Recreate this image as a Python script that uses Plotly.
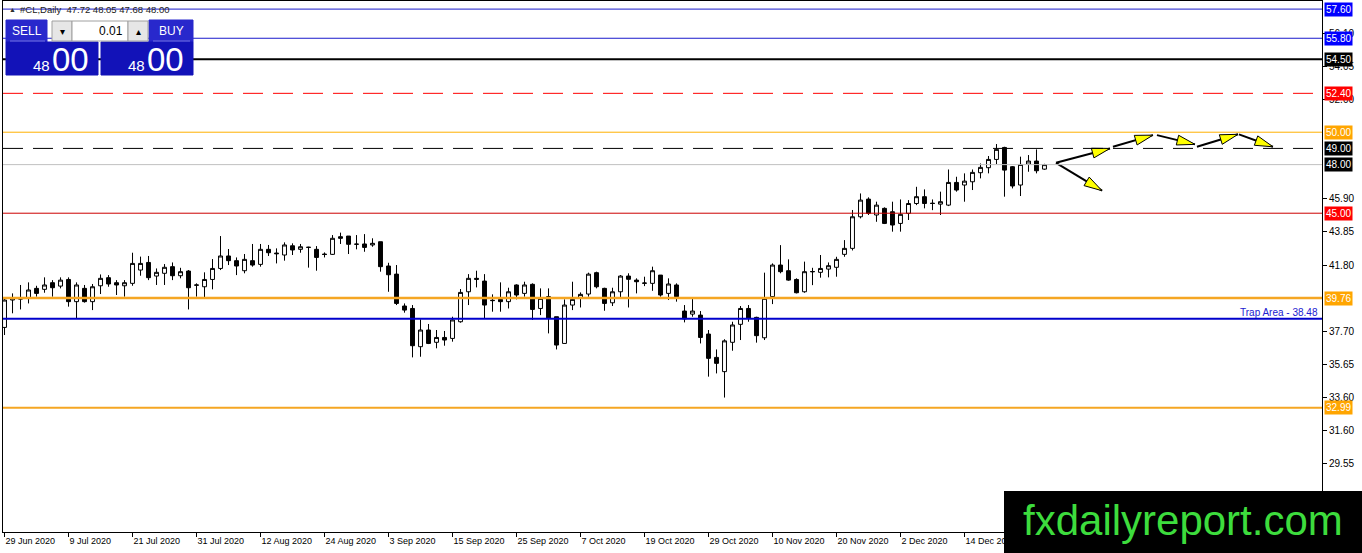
import math
import plotly.graph_objects as go

# #CL daily bars, 29 Jun 2020 .. 28 Dec 2020 (one bar per weekday)
opens = [37.95, 39.64, 39.70, 39.74, 40.36, 40.30, 40.71, 40.50, 40.91, 39.54,
         40.36, 39.54, 40.52, 41.02, 40.71, 40.52, 40.67, 41.49, 41.96, 41.12,
         41.29, 41.70, 41.14, 41.43, 40.55, 40.46, 40.91, 41.59, 42.36, 42.07,
         41.45, 42.07, 41.84, 42.77, 42.54, 42.42, 42.99, 42.77, 42.90, 42.77,
         42.48, 42.46, 43.55, 43.59, 43.08, 43.10, 43.04, 43.24, 41.74, 41.24,
         39.27, 39.12, 36.76, 37.79, 37.03, 37.33, 37.27, 38.30, 40.15, 40.98,
         40.81, 39.60, 39.68, 39.54, 40.57, 40.05, 40.61, 39.12, 39.85, 38.61,
         36.96, 39.33, 39.80, 40.01, 41.33, 40.36, 39.47, 40.15, 41.12, 40.87,
         40.67, 40.67, 41.18, 40.05, 40.57, 38.96, 38.77, 38.71, 37.54, 36.10,
         35.22, 37.03, 38.14, 39.12, 38.57, 37.31, 39.85, 41.80, 41.45, 40.91,
         40.15, 41.38, 41.35, 41.55, 41.66, 42.46, 42.83, 44.78, 45.87, 44.89,
         45.30, 45.09, 44.37, 44.99, 45.60, 46.02, 45.62, 45.56, 45.50, 46.90,
         46.74, 46.94, 47.50, 47.81, 48.32, 49.06, 47.87, 46.74, 48.03, 48.22,
         47.72]
highs = [39.80, 40.05, 40.57, 40.73, 40.52, 41.04, 40.87, 41.04, 41.04, 40.73,
         40.57, 40.63, 41.22, 41.18, 40.87, 40.87, 42.56, 42.32, 42.36, 41.59,
         41.86, 41.96, 41.63, 41.49, 40.67, 41.35, 42.17, 43.59, 42.79, 42.27,
         42.48, 43.10, 43.10, 43.04, 42.83, 43.20, 43.14, 43.10, 42.93, 42.97,
         42.58, 43.65, 43.80, 43.59, 43.65, 43.71, 43.45, 43.24, 41.94, 41.80,
         39.43, 39.33, 38.45, 38.16, 37.79, 37.73, 38.61, 40.32, 41.24, 41.45,
         41.24, 39.99, 40.73, 40.40, 40.61, 40.77, 40.67, 40.36, 40.36, 38.61,
         39.68, 40.77, 40.11, 41.33, 41.39, 40.40, 40.40, 41.18, 41.29, 40.98,
         41.08, 41.70, 41.18, 40.98, 40.67, 39.33, 39.70, 38.96, 37.79, 36.59,
         37.22, 38.30, 39.27, 39.33, 38.61, 41.33, 41.90, 43.03, 42.15, 40.98,
         42.01, 41.63, 42.42, 41.96, 42.31, 43.34, 45.20, 46.22, 45.98, 45.71,
         45.36, 45.71, 45.85, 45.81, 46.63, 46.47, 45.85, 46.33, 47.70, 47.25,
         47.46, 47.70, 48.07, 48.53, 49.27, 49.10, 47.91, 48.49, 48.59, 48.94,
         48.05]
lows = [37.48, 38.82, 39.06, 39.43, 39.85, 40.09, 39.85, 40.36, 39.23, 38.51,
        39.48, 39.02, 40.01, 40.46, 39.95, 39.85, 40.52, 41.14, 40.87, 40.57,
        40.57, 40.87, 40.98, 39.06, 39.85, 39.80, 40.30, 41.49, 41.80, 41.18,
        41.29, 41.70, 41.70, 42.36, 41.90, 42.07, 42.42, 42.56, 41.64, 41.45,
        42.27, 42.42, 43.10, 42.48, 42.77, 42.62, 42.93, 41.39, 40.15, 39.33,
        38.86, 36.10, 36.14, 36.92, 36.66, 36.82, 37.07, 38.24, 39.33, 40.42,
        38.51, 38.92, 38.92, 39.12, 39.68, 39.85, 38.41, 38.71, 37.58, 36.59,
        36.96, 39.02, 39.18, 39.85, 40.36, 38.98, 39.27, 39.74, 39.18, 40.05,
        40.50, 40.21, 39.85, 39.64, 39.54, 38.26, 38.61, 36.96, 34.91, 35.11,
        33.62, 36.51, 37.17, 38.30, 37.01, 37.17, 39.39, 41.29, 40.83, 40.05,
        40.09, 40.56, 41.02, 41.04, 41.08, 42.31, 42.70, 44.68, 44.89, 44.47,
        44.33, 43.86, 43.86, 44.58, 45.50, 45.30, 45.19, 44.89, 45.44, 46.33,
        45.71, 46.43, 47.15, 47.46, 48.03, 46.02, 46.53, 46.06, 47.56, 47.46,
        47.68]
closes = [39.64, 39.74, 39.72, 40.26, 40.05, 40.57, 40.40, 40.87, 39.54, 40.57,
          39.54, 40.46, 40.98, 40.63, 40.57, 40.71, 41.90, 41.90, 41.02, 41.35,
          41.66, 41.14, 41.39, 40.40, 40.57, 40.91, 41.59, 42.36, 42.07, 41.74,
          42.15, 41.80, 42.77, 42.56, 42.50, 43.04, 42.73, 42.93, 42.89, 42.27,
          42.45, 43.45, 43.45, 43.08, 43.09, 42.89, 43.14, 41.70, 41.20, 39.43,
          39.02, 36.82, 37.79, 36.96, 37.33, 37.17, 38.41, 40.11, 40.98, 40.92,
          39.33, 39.62, 39.54, 40.15, 39.95, 40.57, 39.06, 39.74, 38.51, 36.86,
          39.33, 39.68, 39.99, 41.24, 40.46, 39.43, 40.15, 41.12, 40.92, 40.77,
          40.69, 41.45, 39.95, 40.63, 39.85, 38.47, 38.96, 37.33, 36.04, 35.73,
          37.12, 38.10, 39.12, 38.51, 37.44, 39.74, 41.80, 41.39, 40.87, 40.09,
          41.39, 41.40, 41.59, 41.76, 42.15, 42.83, 44.78, 45.81, 44.99, 45.50,
          44.37, 44.27, 44.93, 45.60, 46.02, 45.60, 45.60, 45.71, 46.90, 46.43,
          46.98, 47.52, 47.83, 48.32, 48.94, 47.66, 46.68, 48.01, 48.22, 47.62,
          48.00]

tick_bars = [0, 8, 16, 24, 32, 40, 48, 56, 64, 72, 80, 88, 96, 104, 112, 120]
tick_labels = ['29 Jun 2020', '9 Jul 2020', '21 Jul 2020', '31 Jul 2020',
               '12 Aug 2020', '24 Aug 2020', '3 Sep 2020', '15 Sep 2020',
               '25 Sep 2020', '7 Oct 2020', '19 Oct 2020', '29 Oct 2020',
               '10 Nov 2020', '20 Nov 2020', '2 Dec 2020', '14 Dec 2020']
# scale labels that are not hidden behind the level price boxes
price_ticks = [29.55, 31.60, 33.60, 35.65, 37.70, 41.80, 43.85,
               45.90, 52.00, 54.05, 56.10]

# horizontal levels drawn on the chart
level_prices = [57.60, 55.80, 54.50, 52.40, 50.00, 49.00, 48.00, 45.00, 39.76, 38.48, 32.99]
trap_price = 38.48
header = '#CL,Daily  47.72 48.05 47.68 48.00'

# forecast arrows: (start bar, start price, end bar, end price)
arrow_bar0 = [131.44, 138.56, 144.06, 149.06, 154.31, 131.44]
arrow_px0 = [48.11, 49.10, 49.82, 49.10, 49.87, 48.11]
arrow_bar1 = [138.19, 143.56, 148.81, 154.19, 158.56, 137.19]
arrow_px1 = [49.00, 49.82, 49.25, 49.87, 49.10, 46.39]

W, H = 1362, 553
ML, MR, MT, MB = 3, 40, 1, 21
PW, PH = W - ML - MR, H - MT - MB
X0, X1 = -0.19, 164.69
Y0, Y1 = 25.32, 58.10
sx = PW / (X1 - X0)
sy = PH / (Y1 - Y0)


def px(x):
    return (x - ML) / PW


def py(y):
    return 1 - (y - MT) / PH


fig = go.Figure()
fig.add_trace(go.Candlestick(
    x=list(range(len(opens))), open=opens, high=highs, low=lows, close=closes,
    increasing=dict(line=dict(color='black', width=1), fillcolor='white'),
    decreasing=dict(line=dict(color='black', width=1), fillcolor='black'),
    whiskerwidth=0, hoverinfo='skip', showlegend=False))

for b0, p0, b1, p1 in zip(arrow_bar0, arrow_px0, arrow_bar1, arrow_px1):
    fig.add_trace(go.Scatter(x=[b0, b1], y=[p0, p1], mode='lines',
                             line=dict(color='black', width=2),
                             hoverinfo='skip', showlegend=False))
    dx, dy = (b1 - b0) * sx, (p1 - p0) * sy
    L = math.hypot(dx, dy)
    ux, uy = dx / L, dy / L
    tx, ty = b1 * sx, p1 * sy
    bx, by = tx - 18 * ux, ty - 18 * uy
    nx, ny = -uy * 5, ux * 5
    hx = [tx / sx, (bx + nx) / sx, (bx - nx) / sx, tx / sx]
    hy = [ty / sy, (by + ny) / sy, (by - ny) / sy, ty / sy]
    fig.add_trace(go.Scatter(x=hx, y=hy, mode='lines', fill='toself',
                             fillcolor='#ffff00', line=dict(color='black', width=1),
                             hoverinfo='skip', showlegend=False))

line_styles = {
    57.60: ('#1a1acc', 1, 'solid', '#0000ff'),
    55.80: ('#1a1acc', 1, 'solid', '#0000ff'),
    54.50: ('#000000', 2, 'solid', '#000000'),
    52.40: ('#ff0000', 1, '20px,10px', '#ff0000'),
    50.00: ('#ffb000', 1, 'solid', '#ffa500'),
    49.00: ('#000000', 1, '20px,10px', '#000000'),
    48.00: ('#c0c0c0', 1, 'solid', '#000000'),
    45.00: ('#cc0000', 1, 'solid', '#ff0000'),
    39.76: ('#f5a623', 2.5, 'solid', '#ffa500'),
    38.48: ('#0000cc', 2, 'solid', None),
    32.99: ('#f5a623', 2, 'solid', '#ffa500'),
}

shapes = []
annotations = []
for p in level_prices:
    col, w, dash, box = line_styles[p]
    shapes.append(dict(type='line', xref='paper', yref='y', x0=0, x1=1, y0=p, y1=p,
                       line=dict(color=col, width=w, dash=dash)))
    if box:
        annotations.append(dict(xref='paper', yref='y', x=1, y=p, xanchor='left',
                                yanchor='middle', xshift=2, showarrow=False,
                                text='%.2f' % p, bgcolor=box, borderpad=1,
                                font=dict(color='white', size=10, family='Liberation Sans')))

annotations.append(dict(xref='paper', yref='y', x=1, y=trap_price, xanchor='right',
                        yanchor='bottom', xshift=-2, yshift=-1, showarrow=False,
                        text='Trap Area - %.2f' % trap_price,
                        font=dict(color='#2020d0', size=10, family='Liberation Sans')))

# one-click trading panel
panel = [
    (6, 20, 47, 42, '#2828cc', None),
    (6, 42, 98, 75, '#1212b8', None),
    (149, 20, 193, 42, '#2828cc', None),
    (101, 42, 193, 75, '#1212b8', None),
    (52, 21, 72, 41, '#e6e6e6', '#a0a0a0'),
    (72, 21, 128, 41, '#ffffff', '#a0a0a0'),
    (128, 21, 148, 41, '#e6e6e6', '#a0a0a0'),
]
for x0, y0, x1, y1, fill, edge in panel:
    shapes.append(dict(type='rect', xref='paper', yref='paper',
                       x0=px(x0), x1=px(x1), y0=py(y1), y1=py(y0),
                       fillcolor=fill, line=dict(color=edge or fill, width=1)))
for x0, x1 in [(10, 45), (153, 190)]:
    shapes.append(dict(type='line', xref='paper', yref='paper', x0=px(x0), x1=px(x1),
                       y0=py(41), y1=py(41), line=dict(color='#7070e0', width=1)))

# watermark
shapes.append(dict(type='rect', xref='paper', yref='paper', x0=px(1004), x1=px(1362),
                   y0=py(553), y1=py(491), fillcolor='black', line=dict(width=0)))


def txt(x, y, s, size, color='white', anchor='center'):
    annotations.append(dict(xref='paper', yref='paper', x=px(x), y=py(y), text=s,
                            xanchor=anchor, yanchor='middle', showarrow=False,
                            font=dict(color=color, size=size, family='Liberation Sans')))


txt(27, 31, 'SELL', 12)
txt(171, 31, 'BUY', 12)
txt(125, 31, '0.01', 12, 'black', 'right')
txt(62, 31, '▾', 10, 'black')
txt(138, 31, '▴', 10, 'black')
txt(41, 66, '48', 15)
txt(70, 59, '00', 33)
txt(136, 66, '48', 15)
txt(165, 59, '00', 33)
txt(7, 9, '▲', 7, '#303030', 'left')
txt(18, 9, header, 9.5, '#202020', 'left')
txt(1183, 520, 'fxdailyreport.com', 42, '#3ddc3d')

fig.update_layout(
    width=W, height=H,
    margin=dict(l=ML, r=MR, t=MT, b=MB, autoexpand=False),
    plot_bgcolor='white', paper_bgcolor='white',
    showlegend=False,
    shapes=shapes,
    annotations=annotations,
    font=dict(family='Liberation Sans', size=10, color='black'),
    xaxis=dict(range=[X0, X1], tickvals=tick_bars, ticktext=tick_labels,
               ticklabelposition='outside right', tickangle=0, ticks='outside', ticklen=4,
               tickcolor='black', showline=True, mirror=True, linecolor='black',
               showgrid=False, zeroline=False, rangeslider=dict(visible=False),
               automargin=False, tickfont=dict(size=9)),
    yaxis=dict(range=[Y0, Y1], side='right', tickvals=price_ticks, tickformat='.2f',
               ticks='outside', ticklen=4, tickcolor='black', showline=True, mirror=True,
               linecolor='black', showgrid=False, zeroline=False, automargin=False,
               tickfont=dict(size=10)),
)

fig.write_html('out.html', config={'displayModeBar': False},
               post_script="document.body.style.margin='0';")
